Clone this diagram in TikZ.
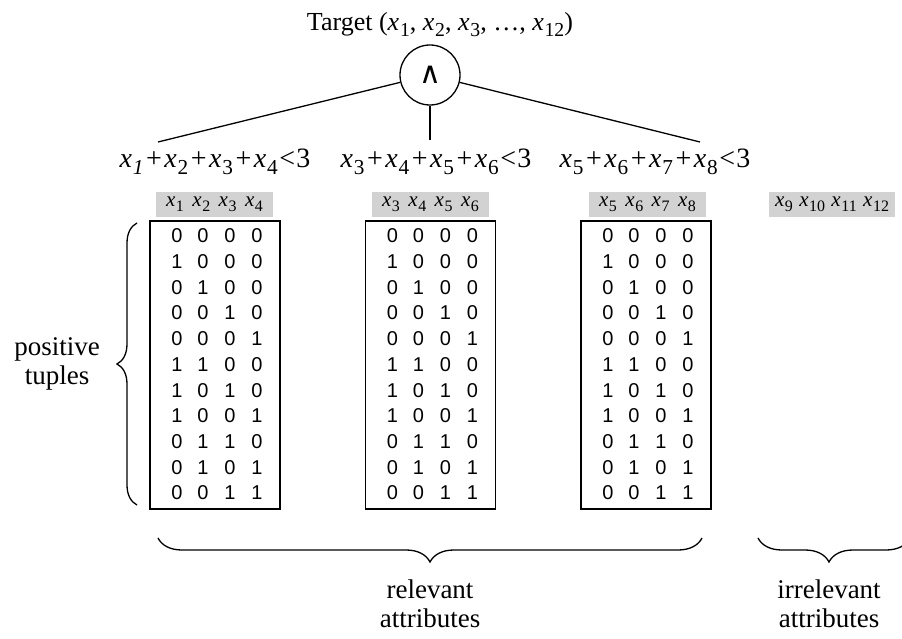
\documentclass[tikz,border=0pt]{standalone}
\usepackage{fontspec}
\setmainfont{Liberation Serif}
\newfontfamily\arialfont{Liberation Sans}
\newfontfamily\symfont{DejaVu Sans}
\usetikzlibrary{decorations.pathreplacing}
\definecolor{hdrgray}{RGB}{210,210,210}
% italic x with a lowered index
\newcommand\xs[1]{\textit{x}\kern0.03em\raisebox{-0.22em}{\scalebox{0.76}{#1}}}
\newcommand\pl{\kern0.09em+\kern0.09em}
\newcommand\lt{\kern0.06em<\kern0.04em}
\begin{document}
\begin{tikzpicture}[x=1pt,y=-1pt,line width=1.3pt,
  hdr/.style={fill=hdrgray,minimum height=25,inner sep=0,
    font=\fontsize{21}{21}\selectfont},
  mbox/.style={draw,line width=1.5pt,minimum width=130,minimum height=288,inner sep=0},
  digit/.style={font=\arialfont\fontsize{20}{20}\selectfont,inner sep=0},
  formula/.style={font=\fontsize{28}{28}\selectfont,inner sep=0,anchor=base},
  lbl/.style={font=\fontsize{27}{29}\selectfont,align=center,inner sep=0},
  bracedeco/.style={decorate,decoration={brace,amplitude=#1},line width=1.3pt}]
\useasboundingbox (0,0) rectangle (902,639);

% title and conjunction node
\node[font=\fontsize{26}{26}\selectfont,anchor=base,inner sep=0] (title) at (440,31)
  {Target (\xs{1}, \xs{2}, \xs{3}, \dots, \xs{12})};
\node[draw,circle,minimum size=60,inner sep=0] (and) at (430,75)
  {\symfont\fontsize{30}{30}\selectfont ∧};

% constraint formulas
\node[formula] (f1) at (215,168)
  {\textit{x}\kern0.03em\raisebox{-0.22em}{\scalebox{0.76}{\textit{1}}}\pl\xs{2}\pl\xs{3}\pl\xs{4}\lt3};
\node[formula] (f2) at (436,168) {\xs{3}\pl\xs{4}\pl\xs{5}\pl\xs{6}\lt3};
\node[formula] (f3) at (655,168) {\xs{5}\pl\xs{6}\pl\xs{7}\pl\xs{8}\lt3};
\coordinate (e1) at (158,142);
\coordinate (e2) at (430,140);
\coordinate (e3) at (700,142);
\draw (and) -- (e1);
\draw (and) -- (e2);
\draw (and) -- (e3);

% attribute headers
\node[hdr,minimum width=117] (h1) at (214.5,204.5) {\xs{1}\kern0.4em\xs{2}\kern0.4em\xs{3}\kern0.4em\xs{4}};
\node[hdr,minimum width=117] (h2) at (430.5,204.5) {\xs{3}\kern0.4em\xs{4}\kern0.4em\xs{5}\kern0.4em\xs{6}};
\node[hdr,minimum width=117] (h3) at (647.5,204.5) {\xs{5}\kern0.4em\xs{6}\kern0.4em\xs{7}\kern0.4em\xs{8}};
\node[hdr,minimum width=126] (h4) at (832,204.5) {\xs{9}\kern0.3em\xs{10}\kern0.3em\xs{11}\kern0.3em\xs{12}};

% tuple tables
\foreach \bx/\cx in {b1/215,b2/430.5,b3/646}{
  \node[mbox] (\bx) at (\cx,365) {};
  \foreach \da/\db/\dc/\dd [count=\r from 0] in
     {0/0/0/0,1/0/0/0,0/1/0/0,0/0/1/0,0/0/0/1,1/1/0/0,1/0/1/0,1/0/0/1,0/1/1/0,0/1/0/1,0/0/1/1}{
    \node[digit] (\bx-\r-a) at (\cx-38,236+25.7*\r) {\da};
    \node[digit] (\bx-\r-b) at (\cx-12,236+25.7*\r) {\db};
    \node[digit] (\bx-\r-c) at (\cx+15,236+25.7*\r) {\dc};
    \node[digit] (\bx-\r-d) at (\cx+42,236+25.7*\r) {\dd};
  }
}

% braces and their labels
\draw[bracedeco=20pt] (137,505) -- (137,223);
\node[lbl] (pos) at (57,364) {positive\\tuples};
\draw[bracedeco=24pt] (702,538) -- (158,538);
\node[lbl] (rel) at (430,604) {relevant\\attributes};
\begin{scope}
  \clip (0,0) rectangle (902,639);
  \draw[bracedeco=24pt,decoration={aspect=0.533}] (910,538) -- (758,538);
\end{scope}
\node[lbl] (irr) at (829,604) {irrelevant\\attributes};
\end{tikzpicture}
\end{document}
